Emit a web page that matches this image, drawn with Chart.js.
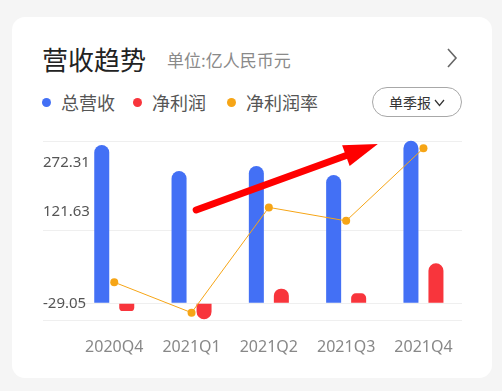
<!DOCTYPE html>
<html>
<head>
<meta charset="utf-8">
<script src="https://cdn.jsdelivr.net/npm/chart.js@4/dist/chart.umd.min.js"></script>
<style>
  html, body { margin: 0; padding: 0; background: #f5f5f5; width: 502px; height: 391px; overflow: hidden; }
  body { font-family: "Noto Sans CJK SC", "Noto Sans", sans-serif; position: relative; }
  .card { position: absolute; left: 12px; top: 17px; width: 480px; height: 361px; background: #fff; border-radius: 13px; }
  .title { position: absolute; left: 42px; top: 41px; font-size: 26px; color: #222; line-height: 36px; }
  .unit { position: absolute; left: 167px; top: 48px; font-size: 17px; color: #8a8a8a; line-height: 24px; }
  .more { position: absolute; left: 443px; top: 47px; width: 18px; height: 22px; }
  .legend { position: absolute; top: 89px; font-size: 18px; color: #555; line-height: 26px; }
  .legend i { display: inline-block; width: 9px; height: 9px; border-radius: 50%; margin-right: 10px; vertical-align: 3px; }
  .btn { position: absolute; left: 372px; top: 87px; width: 88px; height: 28px; border: 1px solid #a8a8a8; border-radius: 15px;
         font-size: 14px; color: #333; line-height: 28px; text-align: center; }
  #wrap { position: absolute; left: 0; top: 0; width: 502px; height: 391px; }
</style>
</head>
<body>
<div class="card"></div>
<div class="title">营收趋势</div>
<div class="unit">单位:亿人民币元</div>
<svg class="more" viewBox="0 0 18 22"><polyline points="5,2 13,11 5,20" fill="none" stroke="#666" stroke-width="1.6"/></svg>
<div class="legend" style="left:42px"><i style="background:#4370f5"></i>总营收</div>
<div class="legend" style="left:133px"><i style="background:#f8353c"></i>净利润</div>
<div class="legend" style="left:227px"><i style="background:#f6a516"></i>净利润率</div>
<div class="btn">单季报 <svg width="11" height="8" viewBox="0 0 11 8" style="vertical-align:1px"><polyline points="1,1 5.5,6.5 10,1" fill="none" stroke="#333" stroke-width="1.2"/></svg></div>
<div id="wrap"><canvas id="chart"></canvas></div>
<script>
const quarters = ['2020Q4', '2021Q1', '2021Q2', '2021Q3', '2021Q4'];
const revenue = [316.6, 264.6, 274.6, 256.6, 325.2];   // 总营收 (亿元)
const netProfit = [-15.4, -32.0, 29.2, 20.0, 80.0];     // 净利润 (亿元)
const netMargin = [-5.3, -12.1, 11.4, 8.4, 24.6];       // 净利润率 (%)
const yTickLabels = ['272.31', '121.63', '-29.05'];

const BLUE = '#4370f5';
const RED = '#f8353c';
const ORANGE = '#f6a516';

const Y_MIN = -33.4, Y_MAX = 330.6;
const gridValues = [Y_MIN, 0, 145.2, 323.2];
const labelValues = [280.6, 182.6, 0];

// red arrow drawn over the chart, anchored in data units
const arrowPlugin = {
    id: 'arrow',
    afterDatasetsDraw(chart) {
        const { ctx, scales: { x, y } } = chart;
        const x0 = x.getPixelForValue(1.06), y0 = y.getPixelForValue(186.6);
        const x1 = x.getPixelForValue(3.41), y1 = y.getPixelForValue(318.6);
        const ang = Math.atan2(y1 - y0, x1 - x0);
        const headLen = 34, headW = 11;
        const bx = x1 - headLen * Math.cos(ang), by = y1 - headLen * Math.sin(ang);
        ctx.save();
        ctx.strokeStyle = '#ff0000';
        ctx.fillStyle = '#ff0000';
        ctx.lineWidth = 7;
        ctx.lineCap = 'round';
        ctx.beginPath();
        ctx.moveTo(x0, y0);
        ctx.lineTo(bx + 4 * Math.cos(ang), by + 4 * Math.sin(ang));
        ctx.stroke();
        ctx.beginPath();
        ctx.moveTo(x1, y1);
        ctx.lineTo(bx + headW * Math.sin(ang), by - headW * Math.cos(ang));
        ctx.lineTo(bx - headW * Math.sin(ang), by + headW * Math.cos(ang));
        ctx.closePath();
        ctx.fill();
        ctx.restore();
    }
};

const toPoints = arr => arr.map((v, i) => ({ x: i, y: v }));

new Chart(document.getElementById('chart').getContext('2d'), {
    data: {
        datasets: [{
            type: 'line',
            label: '净利润率',
            data: toPoints(netMargin),
            yAxisID: 'yr',
            borderColor: ORANGE,
            backgroundColor: ORANGE,
            borderWidth: 1,
            pointRadius: 4,
            pointHoverRadius: 4,
            pointBorderWidth: 0,
            tension: 0
        }, {
            type: 'bar',
            label: '总营收',
            data: toPoints(revenue),
            yAxisID: 'y',
            backgroundColor: BLUE,
            borderRadius: 8,
            categoryPercentage: 0.647,
            barPercentage: 0.6
        }, {
            type: 'bar',
            label: '净利润',
            data: toPoints(netProfit),
            yAxisID: 'y',
            backgroundColor: RED,
            borderRadius: 8,
            categoryPercentage: 0.647,
            barPercentage: 0.6
        }]
    },
    options: {
        responsive: true,
        maintainAspectRatio: false,
        animation: false,
        layout: { padding: { left: 43, right: 40, top: 138, bottom: 31 } },
        plugins: { legend: { display: false }, tooltip: { enabled: false } },
        scales: {
            x: {
                type: 'linear',
                min: -0.9217,
                max: 4.4987,
                offset: false,
                bounds: 'data',
                grid: { display: false },
                border: { display: false },
                afterBuildTicks: s => { s.ticks = quarters.map((q, i) => ({ value: i })); },
                afterFit: s => { s.height = 40; },
                ticks: {
                    padding: 10,
                    color: '#888',
                    font: { family: 'Noto Sans', size: 16 },
                    maxRotation: 0,
                    autoSkip: false,
                    callback: v => quarters[v]
                }
            },
            y: {
                position: 'left',
                min: Y_MIN,
                max: Y_MAX,
                grid: { color: '#efefef', drawTicks: false },
                border: { display: false },
                afterBuildTicks: s => { s.ticks = gridValues.map(v => ({ value: v })); },
                ticks: { display: false }
            },
            yl: {
                position: 'left',
                min: Y_MIN,
                max: Y_MAX,
                grid: { display: false, drawTicks: false },
                border: { display: false },
                afterBuildTicks: s => { s.ticks = labelValues.map(v => ({ value: v })); },
                ticks: {
                    mirror: true,
                    padding: 0,
                    color: '#555',
                    font: { family: 'Noto Sans', size: 15 },
                    callback: (v, i) => yTickLabels[i]
                }
            },
            yr: {
                display: false,
                min: -13.73,
                max: 26.89
            }
        }
    },
    plugins: [arrowPlugin]
});
</script>
</body>
</html>
